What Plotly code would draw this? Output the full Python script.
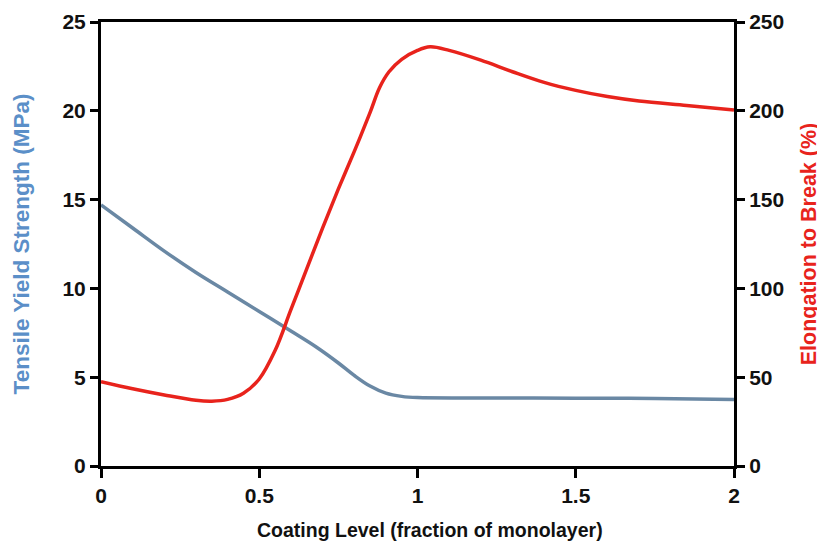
import plotly.graph_objects as go

# Tensile yield strength (MPa), left axis
ts_x = [0, 0.1, 0.2, 0.3, 0.4, 0.5, 0.6, 0.68, 0.75, 0.8, 0.85, 0.9, 0.95, 1.0, 1.2, 1.5, 1.75, 2.0]
ts_y = [14.7, 13.4, 12.1, 10.9, 9.8, 8.7, 7.6, 6.7, 5.8, 5.1, 4.5, 4.1, 3.92, 3.85, 3.83, 3.82, 3.8, 3.75]

# Elongation to break (%), right axis
el_x = [0, 0.1, 0.2, 0.3, 0.35, 0.4, 0.45, 0.5, 0.55, 0.6, 0.65, 0.7, 0.75, 0.8, 0.85, 0.88, 0.91,
        0.95, 1.0, 1.04, 1.1, 1.2, 1.3, 1.4, 1.5, 1.6, 1.7, 1.85, 2.0]
el_y = [47.5, 43.5, 40, 37, 36.5, 37.5, 41, 49, 65, 88, 111, 134, 156, 177, 199, 213, 222,
        229, 234, 236, 234, 228.5, 222, 216, 211.5, 208, 205.5, 203, 200.5]

x_ticks = [0, 0.5, 1, 1.5, 2]
x_labels = ["0", "0.5", "1", "1.5", "2"]
left_ticks = [0, 5, 10, 15, 20, 25]
right_ticks = [0, 50, 100, 150, 200, 250]

FONT = "Liberation Sans"
BLUE_LINE = "#6a88a4"
RED_LINE = "#e8231c"
BLUE_TXT = "#5b8fc8"
RED_TXT = "#e8231c"

fig = go.Figure()
fig.add_trace(go.Scatter(x=ts_x, y=ts_y, mode="lines", line=dict(color=BLUE_LINE, width=3.5, shape="spline", smoothing=1.0),
                         yaxis="y", showlegend=False))
fig.add_trace(go.Scatter(x=el_x, y=el_y, mode="lines", line=dict(color=RED_LINE, width=3.5, shape="spline", smoothing=1.0),
                         yaxis="y2", showlegend=False))

tickfont = dict(family=FONT, size=21, color="#111111", weight="bold")

fig.update_layout(
    width=825, height=545,
    margin=dict(l=93, r=99, t=14, b=87, autoexpand=False),
    paper_bgcolor="white", plot_bgcolor="white",
    xaxis=dict(range=[0, 2], tickvals=x_ticks, ticktext=x_labels, showgrid=False, zeroline=False,
               showline=True, linecolor="black", linewidth=3, mirror=True,
               ticks="outside", ticklen=9, tickwidth=3, tickcolor="black", tickfont=tickfont),
    yaxis=dict(range=[0, 25], tickvals=left_ticks, showgrid=False, zeroline=False,
               showline=True, linecolor="black", linewidth=3,
               ticks="outside", ticklen=8, tickwidth=3, tickcolor="black", tickfont=tickfont,
               title=dict(text="Tensile Yield Strength (MPa)", font=dict(family=FONT, size=22.5, color=BLUE_TXT, weight="bold"), standoff=27)),
    yaxis2=dict(range=[0, 250], tickvals=right_ticks, overlaying="y", side="right", showgrid=False, zeroline=False,
                showline=True, linecolor="black", linewidth=3,
                ticks="outside", ticklen=8, tickwidth=3, tickcolor="black", tickfont=tickfont,
                title=dict(text="Elongation to Break (%)", font=dict(family=FONT, size=21.5, color=RED_TXT, weight="bold"), standoff=18)),
    annotations=[dict(text="Coating Level (fraction of monolayer)", xref="paper", yref="paper",
                      x=0.52, y=-0.144, xanchor="center", yanchor="middle", showarrow=False,
                      font=dict(family=FONT, size=19.5, color="#111111", weight="bold"))],
)

fig.write_html("out.html")
